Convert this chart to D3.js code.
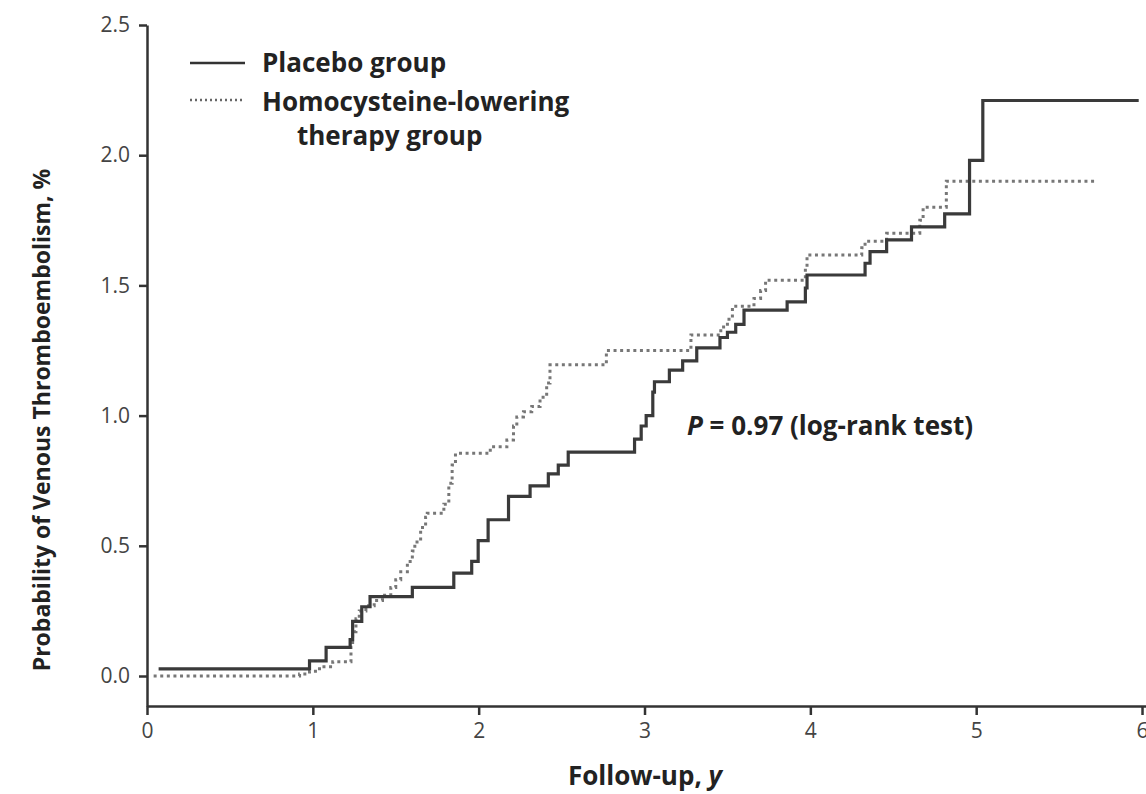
<!DOCTYPE html>
<html>
<head>
    <style>
        body {
            margin: 0;
            background: #fff;
        }
        text {
            font-family: "Open Sans", sans-serif;
            fill: #222;
        }
        .tick text {
            font-size: 21px;
            fill: #444;
        }
        .lbl {
            font-size: 26px;
            font-weight: 700;
        }
        .ylbl {
            font-size: 23px;
            font-weight: 700;
        }
    </style>
    <script src="https://d3js.org/d3.v7.min.js"></script>
</head>
<body>
    <svg width="1146" height="794"></svg>

    <script>
        // step times (years) and cumulative probability (%)
        var placeboT = [0.07, 0.98, 1.08, 1.225, 1.24, 1.295, 1.345, 1.60, 1.85, 1.958, 1.997, 2.057, 2.18, 2.31, 2.42, 2.48, 2.54,
                        2.94, 2.98, 3.01, 3.05, 3.06, 3.15, 3.23, 3.315, 3.455, 3.50, 3.55, 3.60, 3.86, 3.97, 3.98, 4.33, 4.36,
                        4.46, 4.61, 4.81, 4.96, 5.04, 5.98];
        var placeboV = [0.027, 0.058, 0.11, 0.14, 0.21, 0.266, 0.305, 0.34, 0.395, 0.44, 0.52, 0.60, 0.69, 0.73, 0.776, 0.81, 0.86,
                        0.91, 0.96, 1.00, 1.09, 1.13, 1.175, 1.21, 1.26, 1.30, 1.32, 1.35, 1.405, 1.437, 1.49, 1.54, 1.585, 1.63,
                        1.675, 1.725, 1.775, 1.98, 2.21, 2.21];

        var homocT = [0.04, 0.92, 0.98, 1.04, 1.12, 1.23, 1.24, 1.26, 1.28, 1.32, 1.37, 1.42, 1.47, 1.50, 1.53, 1.57, 1.60, 1.615,
                      1.65, 1.68, 1.69, 1.79, 1.82, 1.84, 1.86, 2.07, 2.17, 2.21, 2.23, 2.27, 2.32, 2.37, 2.41, 2.43, 2.77, 3.28,
                      3.46, 3.50, 3.53, 3.66, 3.70, 3.73, 3.97, 3.98, 4.31, 4.33, 4.46, 4.66, 4.68, 4.82, 5.73];
        var homocV = [0.00, 0.008, 0.018, 0.036, 0.055, 0.11, 0.17, 0.22, 0.25, 0.27, 0.29, 0.31, 0.34, 0.37, 0.40, 0.44, 0.48, 0.515,
                      0.57, 0.61, 0.625, 0.66, 0.74, 0.81, 0.855, 0.88, 0.906, 0.96, 0.995, 1.015, 1.035, 1.07, 1.125, 1.195, 1.25, 1.31,
                      1.34, 1.37, 1.42, 1.45, 1.48, 1.52, 1.57, 1.617, 1.645, 1.67, 1.70, 1.75, 1.80, 1.90, 1.90];

        var xTicks = [0, 1, 2, 3, 4, 5, 6];
        var yTicks = [0, 0.5, 1.0, 1.5, 2.0, 2.5];

        var svg = d3.select("svg");

        var x = d3.scaleLinear().domain([0, 6.024]).range([147, 1146]);
        var y = d3.scaleLinear().domain([-0.1152, 2.5]).range([706, 25]);

        svg.append("g")
            .attr("transform", "translate(0,706)")
            .call(d3.axisBottom(x).tickValues(xTicks).tickFormat(d3.format("d")).tickSize(9).tickSizeOuter(0).tickPadding(8));

        svg.append("g")
            .attr("transform", "translate(147,0)")
            .call(d3.axisLeft(y).tickValues(yTicks).tickFormat(d3.format(".1f")).tickSize(8).tickSizeOuter(0).tickPadding(9));

        svg.selectAll(".domain, .tick line")
            .attr("stroke", "#333")
            .attr("stroke-width", 2.5);

        function toPts(ts, vs) {
            return ts.map(function(t, i) { return [t, vs[i]]; });
        }

        var line = d3.line()
            .x(function(d) { return x(d[0]); })
            .y(function(d) { return y(d[1]); })
            .curve(d3.curveStepAfter);

        svg.append("path")
            .datum(toPts(homocT, homocV))
            .attr("d", line)
            .attr("fill", "none")
            .attr("stroke", "#777")
            .attr("stroke-width", 3)
            .attr("stroke-dasharray", "3,3.6");

        svg.append("path")
            .datum(toPts(placeboT, placeboV))
            .attr("d", line)
            .attr("fill", "none")
            .attr("stroke", "#3a3a3a")
            .attr("stroke-width", 3.2);

        // legend
        var lg = svg.append("g");
        lg.append("line").attr("x1", 190).attr("x2", 245).attr("y1", 63).attr("y2", 63)
            .attr("stroke", "#333").attr("stroke-width", 2.5);
        lg.append("line").attr("x1", 190).attr("x2", 245).attr("y1", 100).attr("y2", 100)
            .attr("stroke", "#666").attr("stroke-width", 2.5).attr("stroke-dasharray", "2,3");
        lg.append("text").attr("class", "lbl").attr("x", 262).attr("y", 72).text("Placebo group");
        lg.append("text").attr("class", "lbl").attr("x", 262).attr("y", 111).text("Homocysteine-lowering");
        lg.append("text").attr("class", "lbl").attr("x", 297).attr("y", 145).text("therapy group");

        // p-value
        var p = svg.append("text").attr("class", "lbl").attr("x", 687).attr("y", 435);
        p.append("tspan").attr("font-style", "italic").text("P");
        p.append("tspan").text(" = 0.97 (log-rank test)");

        // axis titles
        svg.append("text").attr("class", "ylbl")
            .attr("text-anchor", "middle")
            .attr("transform", "translate(50,420) rotate(-90)")
            .text("Probability of Venous Thromboembolism, %");

        var xt = svg.append("text").attr("class", "lbl")
            .attr("text-anchor", "middle")
            .attr("x", 645).attr("y", 785);
        xt.append("tspan").text("Follow-up, ");
        xt.append("tspan").attr("font-style", "italic").text("y");
    </script>
</body>
</html>
